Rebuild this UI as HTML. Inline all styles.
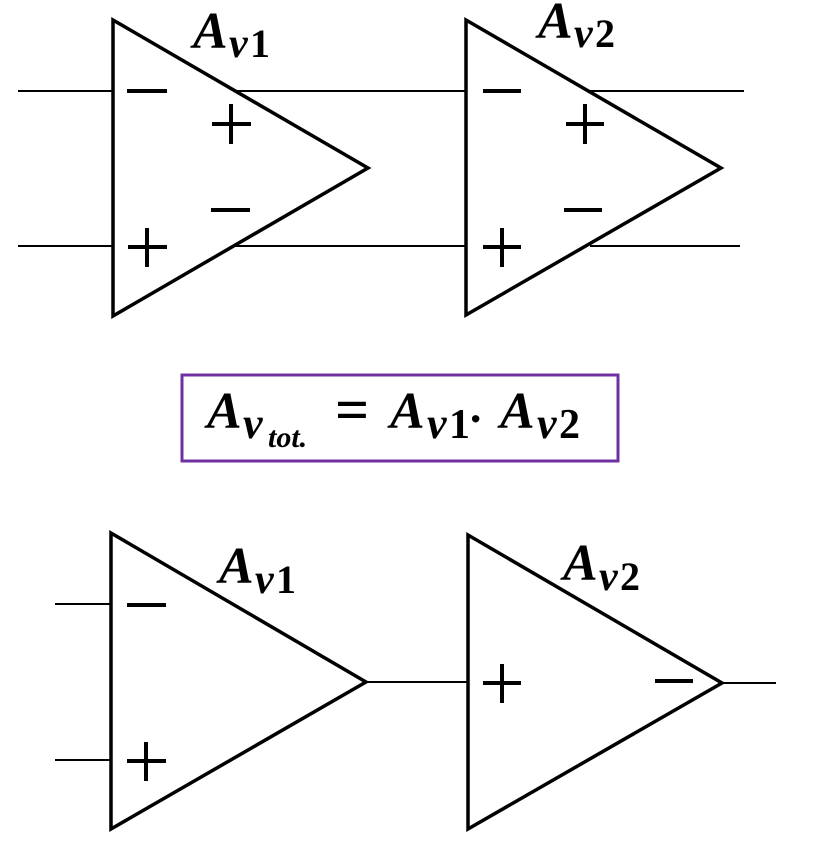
<!DOCTYPE html>
<html><head><meta charset="utf-8"><style>
html,body{margin:0;padding:0;background:#fff;}
svg{display:block;}
.t{font-family:"Liberation Serif",serif;font-weight:bold;}
.i{font-style:italic;}
</style></head><body>
<svg width="823" height="844" viewBox="0 0 823 844" xmlns="http://www.w3.org/2000/svg">
<g stroke="#000" fill="none">
<line x1="18" y1="91" x2="113" y2="91" stroke-width="2"/>
<line x1="18" y1="246" x2="113" y2="246" stroke-width="2"/>
<line x1="233" y1="91" x2="466" y2="91" stroke-width="2"/>
<line x1="233" y1="246" x2="466" y2="246" stroke-width="2"/>
<line x1="588" y1="91" x2="744" y2="91" stroke-width="2"/>
<line x1="590" y1="246" x2="740" y2="246" stroke-width="2"/>
<polygon points="113,20 113,316 368,168" stroke-width="3.5"/>
<polygon points="466,20 466,315 721,168" stroke-width="3.5"/>
<line x1="55" y1="604" x2="111" y2="604" stroke-width="2"/>
<line x1="55" y1="760" x2="111" y2="760" stroke-width="2"/>
<line x1="366" y1="682" x2="468" y2="682" stroke-width="2"/>
<line x1="722" y1="683" x2="776" y2="683" stroke-width="2"/>
<polygon points="111,533 111,829 366,682" stroke-width="3.5"/>
<polygon points="468,535 468,829 722,683" stroke-width="3.5"/>
<g stroke-width="4">
<line x1="127" y1="91" x2="167" y2="91"/>
<line x1="212" y1="124" x2="251" y2="124"/><line x1="231" y1="104" x2="231" y2="144"/>
<line x1="211" y1="210" x2="250" y2="210"/>
<line x1="128" y1="247" x2="167" y2="247"/><line x1="147" y1="228" x2="147" y2="267"/>
<line x1="483" y1="91" x2="521" y2="91"/>
<line x1="566" y1="124" x2="604" y2="124"/><line x1="585" y1="104" x2="585" y2="144"/>
<line x1="564" y1="210" x2="602" y2="210"/>
<line x1="483" y1="247" x2="521" y2="247"/><line x1="502" y1="228" x2="502" y2="267"/>
<line x1="127" y1="605" x2="166" y2="605"/>
<line x1="127" y1="761" x2="166" y2="761"/><line x1="146" y1="742" x2="146" y2="781"/>
<line x1="483" y1="683" x2="521" y2="683"/><line x1="502" y1="664" x2="502" y2="703"/>
<line x1="655" y1="681" x2="693" y2="681"/>
</g>
</g>
<g class="t">
<text x="193" y="48" font-size="52" class="i">A</text>
<text x="229" y="57" font-size="42" class="i">v</text>
<text x="250" y="57" font-size="40">1</text>

<text x="538" y="38" font-size="52" class="i">A</text>
<text x="574" y="47" font-size="42" class="i">v</text>
<text x="595" y="47" font-size="40">2</text>

<text x="219" y="583" font-size="52" class="i">A</text>
<text x="255" y="593" font-size="42" class="i">v</text>
<text x="276" y="593" font-size="40">1</text>

<text x="563" y="580" font-size="52" class="i">A</text>
<text x="599" y="590" font-size="42" class="i">v</text>
<text x="620" y="590" font-size="40">2</text>

<text x="207" y="428" font-size="52" class="i">A</text>
<text x="243" y="438" font-size="44" class="i">v</text>
<text x="268" y="447" font-size="30" class="i">tot.</text>
<text x="335" y="430" font-size="60">=</text>
<text x="390" y="428" font-size="52" class="i">A</text>
<text x="427" y="438" font-size="44" class="i">v</text>
<text x="449" y="438" font-size="42">1</text>
<text x="468" y="434" font-size="46">·</text>
<text x="500" y="428" font-size="52" class="i">A</text>
<text x="537" y="438" font-size="44" class="i">v</text>
<text x="559" y="438" font-size="42">2</text>
</g>
<rect x="182" y="375" width="436" height="86" fill="none" stroke="#7030a0" stroke-width="3"/>
</svg>
</body></html>
